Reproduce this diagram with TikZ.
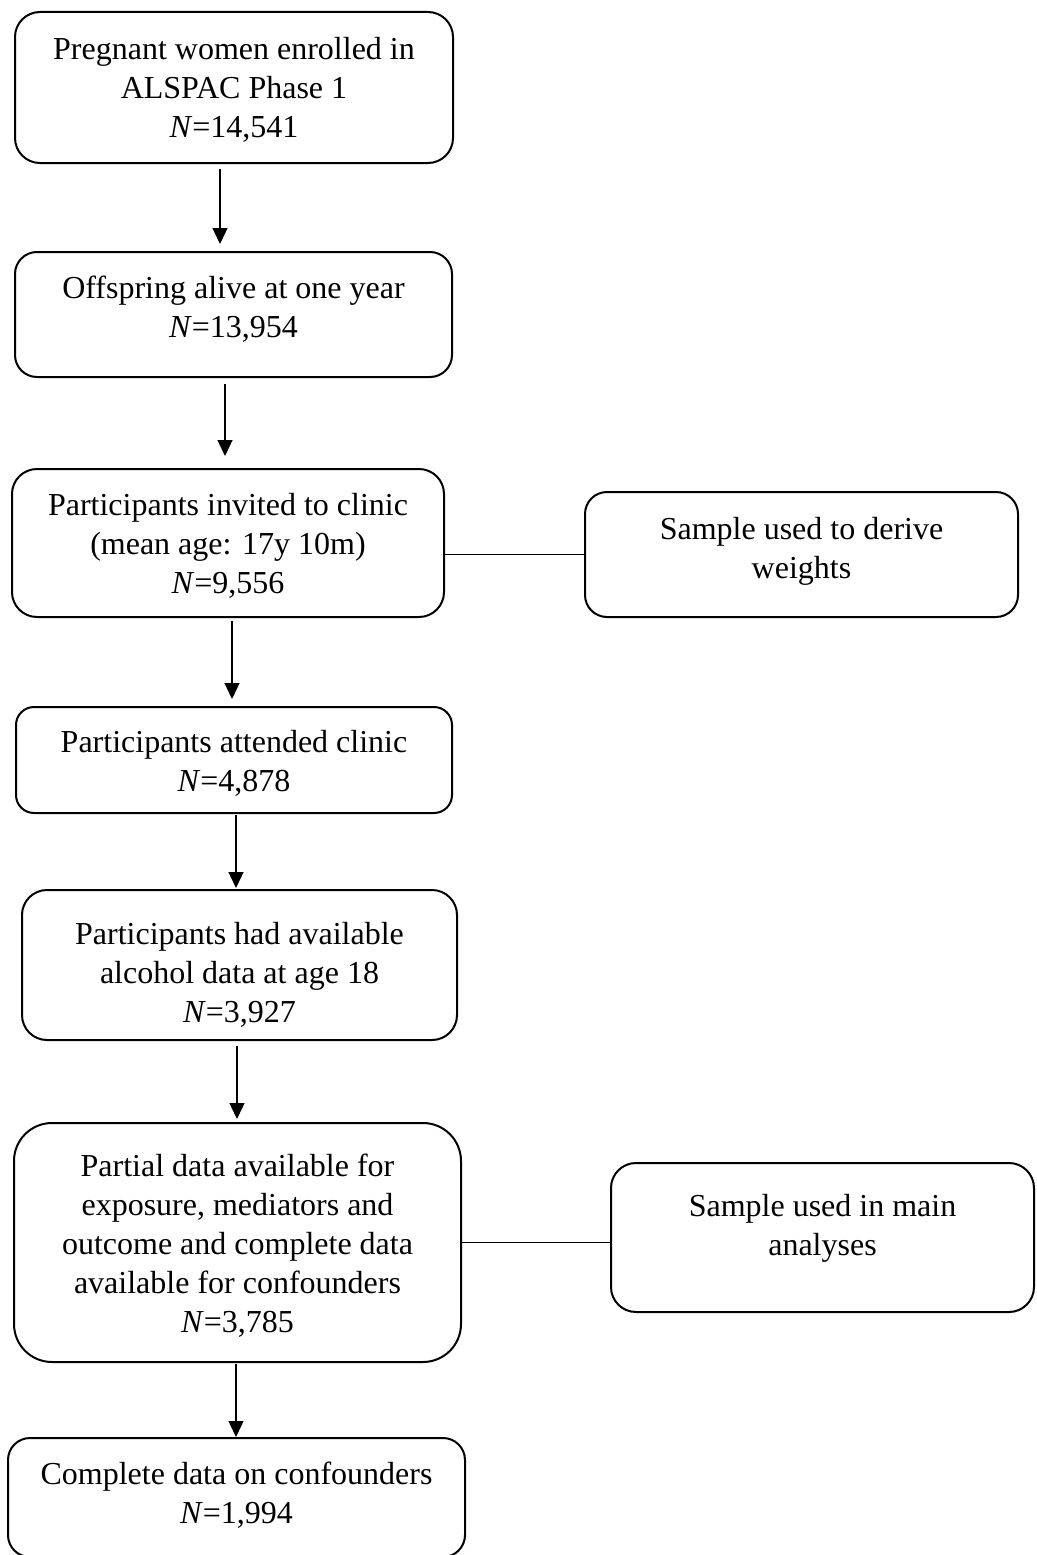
\documentclass[tikz,border=0pt]{standalone}
\usepackage{fontspec}
\setmainfont{Liberation Serif}
\usetikzlibrary{arrows.meta}
\begin{document}
\begin{tikzpicture}[x=1pt,y=1pt,
  box/.style={draw=black, line width=2pt, fill=white, inner sep=0pt},
  txt/.style={inner sep=0pt, align=center, font=\fontsize{32}{39}\selectfont},
  arr/.style={line width=1.3pt, -{Triangle[width=15pt,length=16pt]}},
  link/.style={line width=1.3pt}]
\useasboundingbox (0,0) rectangle (1036,-1555);
\node[box, minimum width=438pt, minimum height=151pt, rounded corners=25pt] (b1) at (234,-87.5) {};
\node[txt] (t1) at ([yshift=-2.5pt]b1.center)
  {Pregnant women enrolled in\\ALSPAC Phase 1\\\textit{N}=14,541};
\node[box, minimum width=437pt, minimum height=125pt, rounded corners=22pt] (b2) at (233.5,-314.5) {};
\node[txt] (t2) at ([yshift=5.5pt]b2.center)
  {Offspring alive at one year\\\textit{N}=13,954};
\node[box, minimum width=432pt, minimum height=148pt, rounded corners=25pt] (b3) at (228,-543) {};
\node[txt] (t3) at ([yshift=-3pt]b3.center)
  {Participants invited to clinic\\(mean age: 17y 10m)\\\textit{N}=9,556};
\node[box, minimum width=433pt, minimum height=125pt, rounded corners=22pt] (s1) at (801.5,-554.5) {};
\node[txt] (u1) at ([yshift=3pt]s1.center)
  {Sample used to derive\\weights};
\node[box, minimum width=436pt, minimum height=106pt, rounded corners=18pt] (b4) at (234,-760) {};
\node[txt] (t4) at ([yshift=-3.5pt]b4.center)
  {Participants attended clinic\\\textit{N}=4,878};
\node[box, minimum width=435pt, minimum height=150pt, rounded corners=25pt] (b5) at (239.5,-965) {};
\node[txt] (t5) at ([yshift=-10pt]b5.center)
  {Participants had available\\alcohol data at age 18\\\textit{N}=3,927};
\node[box, minimum width=447pt, minimum height=239pt, rounded corners=38pt] (b6) at (237.5,-1242.5) {};
\node[txt] (t6) at ([yshift=-3.5pt]b6.center)
  {Partial data available for\\exposure, mediators and\\outcome and complete data\\available for confounders\\\textit{N}=3,785};
\node[box, minimum width=423pt, minimum height=149pt, rounded corners=25pt] (s2) at (822.5,-1237.5) {};
\node[txt] (u2) at ([yshift=9pt]s2.center)
  {Sample used in main\\analyses};
\node[box, minimum width=457pt, minimum height=119pt, rounded corners=22pt] (b7) at (236.5,-1497.5) {};
\node[txt] (t7) at ([yshift=2.5pt]b7.center)
  {Complete data on confounders\\\textit{N}=1,994};
\draw[arr, shorten <=5pt, shorten >=7pt] ([xshift=-14pt]b1.south) -- ([xshift=-14pt]b1.south |- b2.north);
\draw[arr, shorten <=6pt, shorten >=12pt] ([xshift=-8.5pt]b2.south) -- ([xshift=-8.5pt]b2.south |- b3.north);
\draw[arr, shorten <=3pt, shorten >=7pt] ([xshift=4pt]b3.south) -- ([xshift=4pt]b3.south |- b4.north);
\draw[arr, shorten <=1pt, shorten >=1pt] ([xshift=2pt]b4.south) -- ([xshift=2pt]b4.south |- b5.north);
\draw[arr, shorten <=5pt, shorten >=3pt] ([xshift=-2.5pt]b5.south) -- ([xshift=-2.5pt]b5.south |- b6.north);
\draw[arr, shorten <=1pt, shorten >=0pt] ([xshift=-1.5pt]b6.south) -- ([xshift=-1.5pt]b6.south |- b7.north);
\draw[link] (s1.west) -- (s1.west -| b3.east);
\draw[link] (b6.east) -- (b6.east -| s2.west);
\end{tikzpicture}
\end{document}
